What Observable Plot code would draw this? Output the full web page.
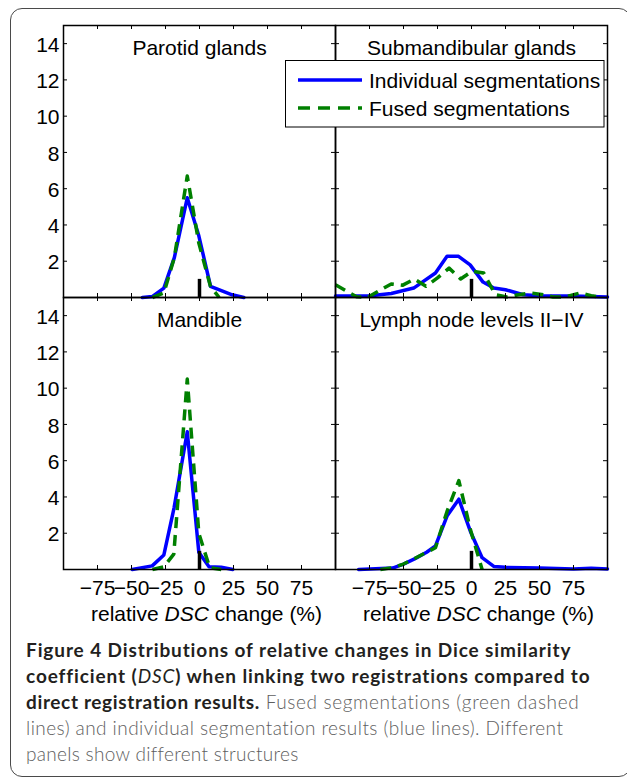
<!DOCTYPE html>
<html><head><meta charset="utf-8">
<script src="https://cdn.jsdelivr.net/npm/d3@7"></script>
<script src="https://cdn.jsdelivr.net/npm/@observablehq/plot@0.6"></script>
<style>
html,body{margin:0;padding:0;background:#fff;}
#wrap{position:relative;width:627px;height:778px;overflow:hidden;background:#fff;}
#frame{position:absolute;left:10px;top:8px;width:621px;height:769px;border:1.5px solid #4a4a4a;border-radius:12px;box-sizing:border-box;}
#chart{position:absolute;left:0;top:0;}
#legend{position:absolute;left:0;top:0;}
#caption{position:absolute;left:26px;top:637px;font-family:Lato,'Open Sans',sans-serif;font-size:19px;line-height:26px;color:#5e5e5e;font-weight:300;white-space:nowrap;}
#caption b{color:#231f20;font-weight:700;}
#caption b i{font-weight:400;}
#caption .ln span{display:inline-block;}
</style></head><body>
<div id="wrap"><div id="frame"></div><div id="chart"></div><svg id="legend" width="627" height="150"></svg>
<div id="caption">
<div class="ln"><span><b>Figure 4 Distributions of relative changes in Dice similarity</b></span></div>
<div class="ln"><span><b>coefficient (<i>DSC</i>) when linking two registrations compared to</b></span></div>
<div class="ln"><span><b>direct registration results.</b> Fused segmentations (green dashed</span></div>
<div class="ln"><span>lines) and individual segmentation results (blue lines). Different</span></div>
<div class="ln"><span>panels show different structures</span></div>
</div>
</div>
<script>
// ---- data ----
const panelTitles = ["Parotid glands", "Submandibular glands", "Mandible", "Lymph node levels II\u2212IV"];
const panelCol = ["L", "R", "L", "R"];
const panelRow = ["T", "T", "B", "B"];
const seriesNames = ["Individual segmentations", "Fused segmentations"];
const xTicks = [-75, -50, -25, 0, 25, 50, 75];
const yTicks = [2, 4, 6, 8, 10, 12, 14];
const xLabel = "relative DSC change (%)";

const parotidIndX = [-42, -34.8, -26.2, -18.5, -9, -0.5, 8.1, 24, 32.6];
const parotidIndV = [0, 0.05, 0.52, 2.2, 5.5, 3.4, 0.62, 0.15, 0];
const parotidFusX = [-34.6, -26.2, -18.5, -9, -0.5, 8.1, 14.5];
const parotidFusV = [0, 0.25, 2.2, 6.7, 3.0, 0.6, 0];

const submandIndX = [-100, -76, -59, -42.5, -26.5, -18, -9.5, -1, 8.5, 16.4, 25, 38, 50, 75, 100];
const submandIndV = [0.08, 0.08, 0.22, 0.52, 1.35, 2.27, 2.27, 1.8, 0.85, 0.52, 0.43, 0.15, 0.1, 0.08, 0.03];
const submandFusX = [-100, -84.5, -76, -59, -50.5, -42, -33.5, -25, -16.5, -8, 0.5, 9, 17.5, 26, 34.5, 43, 51.5, 60, 68.5, 80, 88, 96];
const submandFusV = [0.7, 0.04, 0.02, 0.75, 0.68, 1.02, 0.62, 1.08, 1.62, 1.02, 1.45, 1.35, 0.15, 0.03, 0.15, 0.25, 0.17, 0.03, 0.03, 0.25, 0.1, 0];

const mandibleIndX = [-49.5, -34.8, -26.2, -18.7, -9, -0.5, 7, 16, 24.5];
const mandibleIndV = [0, 0.2, 0.8, 3.4, 7.6, 0.95, 0.15, 0.12, 0];
const mandibleFusX = [-34.6, -26.2, -18.9, -9, -0.5, 7.5, 16];
const mandibleFusV = [0, 0.15, 0.85, 10.5, 2.0, 0.1, 0];

const lymphIndX = [-83, -58, -50, -41.5, -33, -26.5, -18, -9.3, -0.8, 7.8, 16.4, 25, 50, 75, 88, 100];
const lymphIndV = [0, 0.08, 0.3, 0.6, 0.95, 1.3, 2.95, 3.88, 2.1, 0.65, 0.17, 0.12, 0.08, 0.03, 0.07, 0.03];
const lymphFusX = [-67, -58, -50, -41.5, -33, -26.5, -18, -9.3, -0.8, 7.8];
const lymphFusV = [0, 0.1, 0.3, 0.62, 0.95, 1.2, 3.2, 4.9, 2.2, 0];

const seriesData = [
  [[parotidIndX, parotidIndV], [parotidFusX, parotidFusV]],
  [[submandIndX, submandIndV], [submandFusX, submandFusV]],
  [[mandibleIndX, mandibleIndV], [mandibleFusX, mandibleFusV]],
  [[lymphIndX, lymphIndV], [lymphFusX, lymphFusV]]
];

// ---- build table ----
const rows = [];
seriesData.forEach((pair, i) => {
  pair.forEach(([xs, vs], s) => {
    xs.forEach((x, k) => rows.push({panel: panelTitles[i], fx: panelCol[i], fy: panelRow[i], series: seriesNames[s], x, v: vs[k]}));
  });
});
const titleRows = panelTitles.map((t, i) => ({panel: t, fx: panelCol[i], fy: panelRow[i]}));
const labelRows = titleRows.filter(d => d.fy === "B");

const W = 627, H = 630, mL = 63, mR = 20, mT = 25, mB = 61;
const pw = (W - mL - mR) / 2, ph = (H - mT - mB) / 2;
const font = "'Liberation Sans', Arial, Helvetica, sans-serif";

const chart = Plot.plot({
  width: W, height: H, marginLeft: mL, marginRight: mR, marginTop: mT, marginBottom: mB,
  style: {fontFamily: font, fontSize: "21px", background: "transparent", color: "black"},
  fx: {domain: ["L", "R"], padding: 0, axis: null},
  fy: {domain: ["T", "B"], padding: 0, axis: null},
  x: {domain: [-100, 100], axis: null},
  y: {domain: [0, 15], axis: null},
  marks: [
    Plot.line(rows.filter(d => d.series === seriesNames[0]), {x: "x", y: "v", fx: "fx", fy: "fy", stroke: "#0000ff", strokeWidth: 3.5}),
    Plot.line(rows.filter(d => d.series === seriesNames[1]), {x: "x", y: "v", fx: "fx", fy: "fy", stroke: "#008000", strokeWidth: 3.5, strokeDasharray: "11,7", strokeLinecap: "butt"}),
    Plot.ruleX([0], {x: d => d, y1: 0, y2: 1, stroke: "black", strokeWidth: 3.5}),
    Plot.tickX(xTicks, {x: d => d, insetTop: ph - 4, stroke: "black", strokeWidth: 1}),
    Plot.tickX(xTicks, {x: d => d, insetBottom: ph - 4, stroke: "black", strokeWidth: 1}),
    Plot.tickY(yTicks, {y: d => d, insetRight: pw - 4, stroke: "black", strokeWidth: 1}),
    Plot.tickY(yTicks, {y: d => d, insetLeft: pw - 4, stroke: "black", strokeWidth: 1}),
    Plot.frame({stroke: "black", strokeWidth: 1.5}),
    Plot.axisX(xTicks, {anchor: "bottom", tickSize: 0, tickPadding: 11, fontSize: 21, label: null}),
    Plot.axisY(yTicks, {anchor: "left", tickSize: 0, tickPadding: 4, fontSize: 21, label: null, dy: 1.5}),
    Plot.text(titleRows, {fx: "fx", fy: "fy", text: "panel", frameAnchor: "top", lineAnchor: "bottom", dy: 29, fontSize: 21, fill: "black"}),
    Plot.text(labelRows, {fx: "fx", fy: "fy", text: () => xLabel, frameAnchor: "bottom", lineAnchor: "bottom", dy: 51, dx: 7, fontSize: 21, fill: "black"})
  ]
});
document.getElementById("chart").appendChild(chart);

// italic DSC in x labels
d3.select(chart).selectAll("text").filter(function () { return this.textContent === xLabel; }).each(function () {
  const t = d3.select(this);
  t.text(null);
  t.append("tspan").text("relative ");
  t.append("tspan").attr("font-style", "italic").text("DSC");
  t.append("tspan").text(" change (%)");
});

// ---- legend ----
const lg = d3.select("#legend");
lg.append("rect").attr("x", 285.5).attr("y", 60.5).attr("width", 318.5).attr("height", 66.5).attr("fill", "white").attr("stroke", "black").attr("stroke-width", 1);
const legendColors = ["#0000ff", "#008000"];
const legendDash = [null, "12,8"];
seriesNames.forEach((name, i) => {
  const y = 80 + i * 28;
  lg.append("line").attr("x1", 298).attr("x2", 362).attr("y1", y).attr("y2", y)
    .attr("stroke", legendColors[i]).attr("stroke-width", 3.5).attr("stroke-dasharray", legendDash[i]);
  lg.append("text").attr("x", 369).attr("y", y + 7.5).attr("font-family", font).attr("font-size", 21).text(name);
});

// ---- caption fit ----
const targets = [546, 564, 554, 537, 272];
function fit() {
  document.querySelectorAll("#caption .ln span").forEach((s, i) => {
    s.style.letterSpacing = "0px";
    const w = s.getBoundingClientRect().width;
    const n = s.textContent.length;
    s.style.letterSpacing = ((targets[i] - w) / n).toFixed(3) + "px";
  });
}
fit();
if (document.fonts && document.fonts.ready) document.fonts.ready.then(fit);
</script>
</body></html>
